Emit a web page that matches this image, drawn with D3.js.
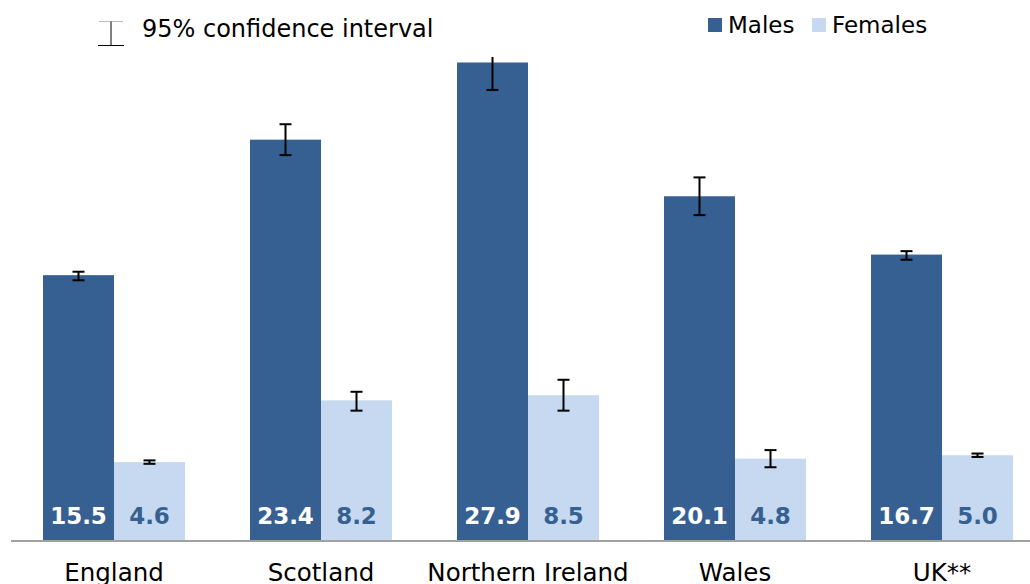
<!DOCTYPE html>
<html>
<head>
<meta charset="utf-8">
<script src="https://cdn.jsdelivr.net/npm/d3@7"></script>
<style>
  body { margin: 0; background: #fff; }
  text { font-family: "DejaVu Sans", Verdana, sans-serif; }
</style>
</head>
<body>
<div id="chart"></div>
<script>
const countries = ["England", "Scotland", "Northern Ireland", "Wales", "UK**"];
const series = ["Males", "Females"];
const maleValues = [15.5, 23.4, 27.9, 20.1, 16.7];
const femaleValues = [4.6, 8.2, 8.5, 4.8, 5.0];
const maleLower = [15.2, 22.5, 26.3, 19.0, 16.4];
const maleUpper = [15.7, 24.3, 29.5, 21.2, 16.9];
const femaleLower = [4.5, 7.6, 7.6, 4.3, 4.9];
const femaleUpper = [4.7, 8.7, 9.4, 5.3, 5.1];

const maleColour = "#376092";
const femaleColour = "#c6d9f0";

const width = 1030, height = 584;
const plotTop = 57, plotBottom = 541;

// flat rows for drawing
const rows = [];
countries.forEach((c, i) => {
  rows.push({ country: c, sex: "Males", value: maleValues[i], lo: maleLower[i], hi: maleUpper[i] });
  rows.push({ country: c, sex: "Females", value: femaleValues[i], lo: femaleLower[i], hi: femaleUpper[i] });
});

const svg = d3.select("#chart").append("svg")
  .attr("width", width)
  .attr("height", height);

// Scales
const x0 = d3.scaleBand().domain(countries).range([10.5, 1045.5]).padding(0);
const x1 = d3.scaleBand().domain(series).range([32.5, 174.5]).padding(0);
const y = d3.scaleLinear().domain([0, 28.22]).range([plotBottom, plotTop]);

svg.append("clipPath").attr("id", "plot-clip")
  .append("rect")
  .attr("x", 0).attr("y", plotTop)
  .attr("width", width).attr("height", plotBottom - plotTop);

const chart = svg.append("g");

// Bars
chart.selectAll(".bar")
  .data(rows)
  .join("rect")
  .attr("class", "bar")
  .attr("x", d => x0(d.country) + x1(d.sex))
  .attr("y", d => y(d.value))
  .attr("width", x1.bandwidth())
  .attr("height", d => y(0) - y(d.value))
  .attr("fill", d => d.sex === "Males" ? maleColour : femaleColour);

// Baseline
svg.append("line")
  .attr("x1", 11).attr("x2", width)
  .attr("y1", y(0)).attr("y2", y(0))
  .attr("stroke", "#a0a0a0")
  .attr("stroke-width", 2);

// Error bars
const err = chart.append("g")
  .attr("clip-path", "url(#plot-clip)")
  .selectAll(".err")
  .data(rows)
  .join("g")
  .attr("class", "err")
  .attr("transform", d => `translate(${x0(d.country) + x1(d.sex) + x1.bandwidth() / 2},0)`)
  .attr("stroke", "#000")
  .attr("stroke-width", 2);

err.append("line")
  .attr("y1", d => y(d.lo)).attr("y2", d => y(d.hi));
err.append("line")
  .attr("x1", -6).attr("x2", 6)
  .attr("y1", d => y(d.lo)).attr("y2", d => y(d.lo));
err.append("line")
  .attr("x1", -6).attr("x2", 6)
  .attr("y1", d => y(d.hi)).attr("y2", d => y(d.hi));

// Value labels inside bars
chart.selectAll(".val")
  .data(rows)
  .join("text")
  .attr("class", "val")
  .attr("x", d => x0(d.country) + x1(d.sex) + x1.bandwidth() / 2)
  .attr("y", 524)
  .attr("text-anchor", "middle")
  .style("font-size", "23px")
  .style("font-weight", "bold")
  .attr("fill", d => d.sex === "Males" ? "#fff" : maleColour)
  .text(d => d3.format(".1f")(d.value));

// Category axis (labels run off the bottom edge, as in the source)
const xAxis = d3.axisBottom(x0).tickSize(0).tickPadding(0);
const xAxisGroup = svg.append("g")
  .attr("transform", `translate(0,${plotBottom})`)
  .call(xAxis);
xAxisGroup.select(".domain").remove();
xAxisGroup.selectAll("text")
  .attr("y", 40)
  .attr("dy", 0)
  .attr("fill", "#000")
  .style("font-family", "'DejaVu Sans', Verdana, sans-serif")
  .style("font-size", "24.5px");

// Legend: confidence interval
const ci = svg.append("g").attr("transform", "translate(111,0)");
ci.append("line").attr("x1", -12).attr("x2", 12).attr("y1", 21.5).attr("y2", 21.5)
  .attr("stroke", "#bbb").attr("stroke-width", 1);
ci.append("line").attr("x1", 0).attr("x2", 0).attr("y1", 21.5).attr("y2", 45)
  .attr("stroke", "#000").attr("stroke-width", 1);
ci.append("line").attr("x1", -13).attr("x2", 13).attr("y1", 45.5).attr("y2", 45.5)
  .attr("stroke", "#000").attr("stroke-width", 1);
svg.append("text")
  .attr("x", 142).attr("y", 37)
  .style("font-size", "24px")
  .attr("fill", "#000")
  .text("95% confidence interval");

// Legend: series
const legendX = [708, 812];
const legend = svg.selectAll(".legend")
  .data(series)
  .join("g")
  .attr("class", "legend")
  .attr("transform", (d, i) => `translate(${legendX[i]},18)`);
legend.append("rect")
  .attr("width", 14).attr("height", 14)
  .attr("fill", d => d === "Males" ? maleColour : femaleColour);
legend.append("text")
  .attr("x", 20).attr("y", 15)
  .style("font-size", "23px")
  .attr("fill", "#000")
  .text(d => d);
</script>
</body>
</html>
